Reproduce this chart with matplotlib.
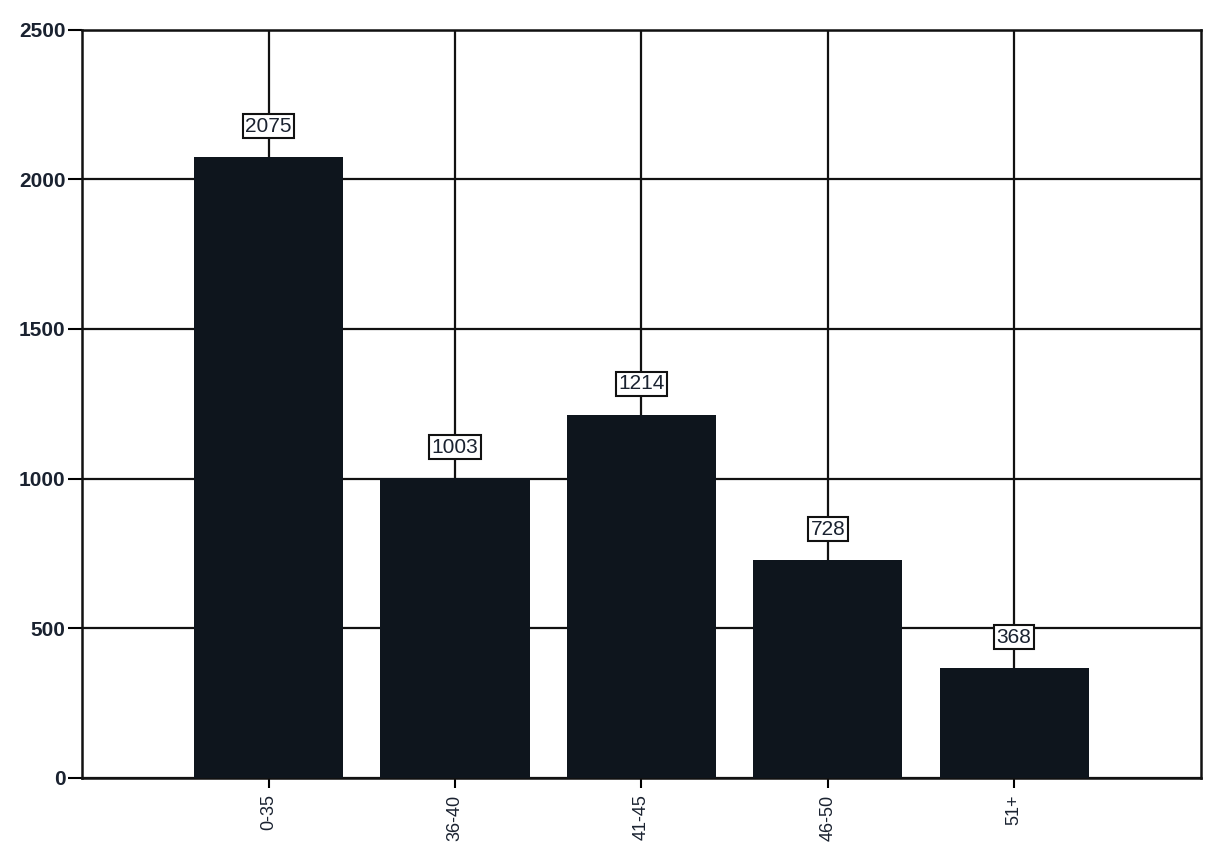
import matplotlib
matplotlib.use("Agg")
import matplotlib.pyplot as plt

categories = ["0-35", "36-40", "41-45", "46-50", "51+"]
values = [2075, 1003, 1214, 728, 368]
yticks = [0, 500, 1000, 1500, 2000, 2500]

plt.rcParams['font.family'] = ['Liberation Sans', 'DejaVu Sans']
fig = plt.figure(figsize=(12.09, 8.5), dpi=100)
ax = fig.add_axes([0.068, 0.085, 0.925, 0.88])

x = list(range(len(categories)))
ax.bar(x, values, width=0.8, color="#0e151d", zorder=3)

ax.set_xlim(-1, len(categories))
ax.set_ylim(0, 2500)
ax.set_yticks(yticks)
ax.set_yticklabels([str(v) for v in yticks], fontsize=15, fontweight="bold", color="#1a2230")
ax.set_xticks(x)
ax.set_xticklabels(categories, rotation=90, fontsize=13, color="#1a2230")
ax.tick_params(axis="x", length=7, width=1.5, direction="out", pad=5)
ax.tick_params(axis="y", length=10, width=1.5, direction="out", pad=2)

ax.grid(True, axis="y", color="#111111", linewidth=1.6, zorder=0)
for xi in x:
    ax.axvline(xi, color="#111111", linewidth=1.6, zorder=1)
for s in ax.spines.values():
    s.set_linewidth(1.8)
    s.set_color("#111111")

for xi, v in zip(x, values):
    ax.annotate(str(v), xy=(xi, v), xytext=(0, 22), textcoords="offset points",
                ha="center", va="center", fontsize=15, color="#1a2230",
                bbox=dict(boxstyle="square,pad=0.12", fc="white", ec="#111111", lw=1.5),
                zorder=5)

fig.savefig("out.png", dpi=100)
